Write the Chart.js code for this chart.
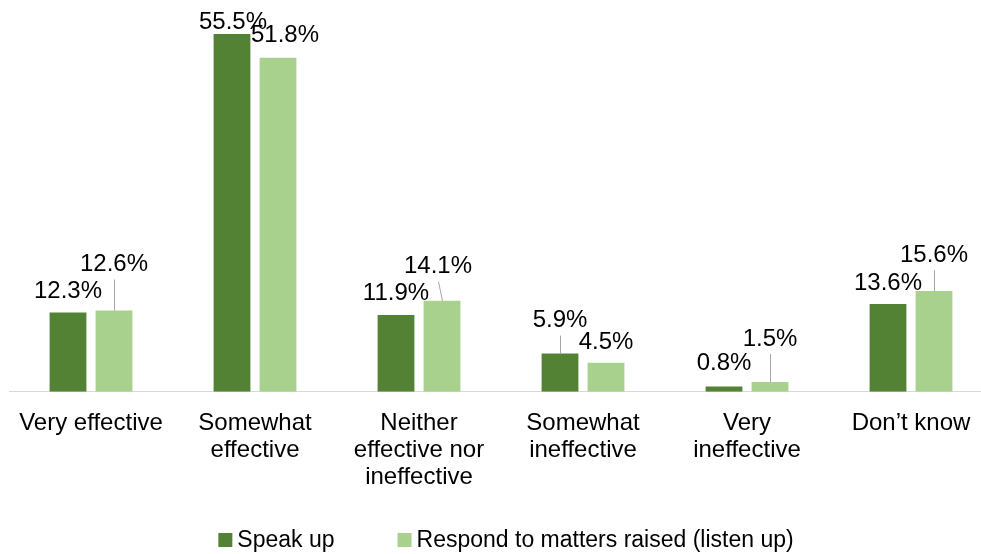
<!DOCTYPE html>
<html>
<head>
<meta charset="utf-8">
<script src="https://cdn.jsdelivr.net/npm/chart.js@4"></script>
<style>
  html, body { margin: 0; padding: 0; background: #fff; overflow: hidden; }
  #wrap { width: 981px; height: 554px; overflow: hidden; }
</style>
</head>
<body>
<div id="wrap"><canvas id="effect-chart" width="994" height="554"></canvas></div>
<script>
// chart data
const categories = [
  ['Very effective'],
  ['Somewhat', 'effective'],
  ['Neither', 'effective nor', 'ineffective'],
  ['Somewhat', 'ineffective'],
  ['Very', 'ineffective'],
  ['Don\u2019t know']
];
const seriesNames = ['Speak up', 'Respond to matters raised (listen up)'];
const speakUp = [12.3, 55.5, 11.9, 5.9, 0.8, 13.6];
const listenUp = [12.6, 51.8, 14.1, 4.5, 1.5, 15.6];

// label placement tweaks (px): [dx, lift above bar top, leader line?]
const speakLabelPos = [[0, 23, false], [1, 14, false], [0, 24, false], [0, 35, true], [0, 25, false], [0, 23, false]];
const listenLabelPos = [[0, 48, true], [7, 24, false], [-4, 36, true], [0, 22, false], [0, 45, true], [0, 38, true]];

const FONT = '"Liberation Sans", Arial, sans-serif';
const darkGreen = '#548235';
const lightGreen = '#A9D18E';

document.addEventListener('DOMContentLoaded', function () {
  const canvas = document.getElementById('effect-chart');
  const ctx = canvas.getContext('2d');

  // value labels with leader lines
  const valueLabels = {
    id: 'valueLabels',
    afterDatasetsDraw(chart) {
      const c = chart.ctx;
      const placements = [speakLabelPos, listenLabelPos];
      c.save();
      c.font = '24px ' + FONT;
      c.fillStyle = '#000';
      c.textAlign = 'center';
      c.textBaseline = 'middle';
      chart.data.datasets.forEach((ds, di) => {
        const meta = chart.getDatasetMeta(di);
        meta.data.forEach((bar, i) => {
          const [dx, lift, leader] = placements[di][i];
          const x = bar.x + dx;
          const y = bar.y - lift;
          c.fillText(ds.data[i].toFixed(1) + '%', x, y + 2);
          if (leader) {
            c.strokeStyle = '#A6A6A6';
            c.lineWidth = 1;
            c.beginPath();
            c.moveTo(Math.round(x) + 0.5, y + 17);
            c.lineTo(Math.round(bar.x) + 0.5, bar.y);
            c.stroke();
          }
        });
      });
      c.restore();
    }
  };

  // legend drawn by hand so spacing follows the original
  const bottomLegend = {
    id: 'bottomLegend',
    afterDraw(chart) {
      const c = chart.ctx;
      c.save();
      c.font = '23px ' + FONT;
      c.textBaseline = 'middle';
      c.textAlign = 'left';
      const box = 14, gapText = 5, gapItem = 63;
      const widths = chart.data.datasets.map(ds => c.measureText(ds.label).width);
      let total = 0;
      widths.forEach((w, i) => { total += box + gapText + w + (i ? gapItem : 0); });
      let x = 506 - total / 2;
      const yMid = 540;
      chart.data.datasets.forEach((ds, i) => {
        c.fillStyle = ds.backgroundColor;
        c.fillRect(x, yMid - box / 2, box, box);
        c.fillStyle = '#000';
        c.fillText(ds.label, x + box + gapText, yMid + 1);
        x += box + gapText + widths[i] + gapItem;
      });
      c.restore();
    }
  };

  new Chart(ctx, {
    type: 'bar',
    data: {
      labels: categories,
      datasets: [
        { label: seriesNames[0], data: speakUp, backgroundColor: darkGreen },
        { label: seriesNames[1], data: listenUp, backgroundColor: lightGreen }
      ]
    },
    options: {
      responsive: false,
      animation: false,
      layout: { padding: { top: 5, left: 9, right: 1, bottom: 53 } },
      datasets: {
        bar: { categoryPercentage: 0.561, barPercentage: 0.8 }
      },
      scales: {
        x: {
          grid: { display: false },
          border: { display: true, color: '#D9D9D9', width: 1 },
          ticks: {
            color: '#000',
            font: { family: FONT, size: 24, lineHeight: 1.13 },
            padding: 10,
            maxRotation: 0,
            autoSkip: false
          }
        },
        y: { display: false, min: 0, max: 60 }
      },
      plugins: {
        legend: { display: false },
        tooltip: { enabled: false }
      }
    },
    plugins: [valueLabels, bottomLegend]
  });
});
</script>
</body>
</html>
